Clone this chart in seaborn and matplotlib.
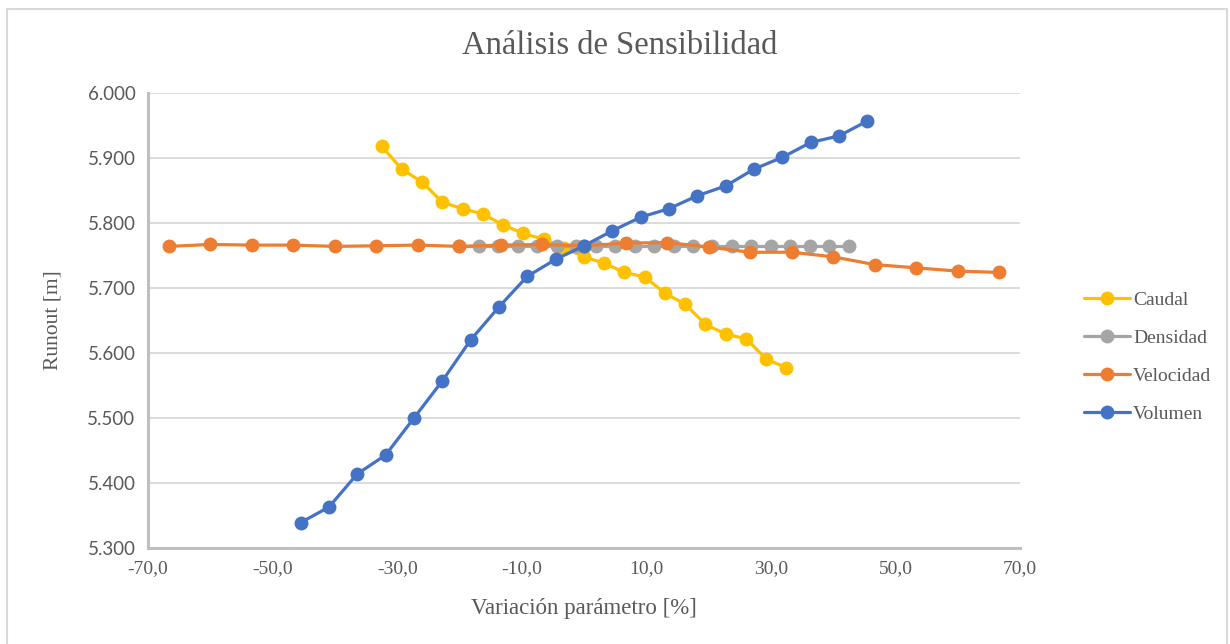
import numpy as np
import pandas as pd
import matplotlib
matplotlib.use("Agg")
import matplotlib.pyplot as plt
from matplotlib.patches import Rectangle
from matplotlib.ticker import FuncFormatter, MultipleLocator, FixedLocator
import seaborn as sns

# Variación porcentual de cada parámetro y runout resultante [m]
caudal_x = [-32.5, -29.25, -26.0, -22.75, -19.5, -16.25, -13.0, -9.75, -6.5, -3.25, 0.0,
            3.25, 6.5, 9.75, 13.0, 16.25, 19.5, 22.75, 26.0, 29.25, 32.5]
caudal_y = [5.918, 5.883, 5.863, 5.832, 5.822, 5.814, 5.797, 5.784, 5.775, 5.762, 5.748,
            5.738, 5.724, 5.717, 5.692, 5.675, 5.644, 5.629, 5.622, 5.591, 5.577]

densidad_x = [-20.0, -16.875, -13.75, -10.625, -7.5, -4.375, -1.25, 1.875, 5.0, 8.125, 11.25,
              14.375, 17.5, 20.625, 23.75, 26.875, 30.0, 33.125, 36.25, 39.375, 42.5]
densidad_y = [5.764] * 21

velocidad_x = [-66.67, -60.0, -53.33, -46.67, -40.0, -33.33, -26.67, -20.0, -13.33, -6.67, 0.0,
               6.67, 13.33, 20.0, 26.67, 33.33, 40.0, 46.67, 53.33, 60.0, 66.67]
velocidad_y = [5.764, 5.767, 5.766, 5.766, 5.764, 5.765, 5.766, 5.764, 5.766, 5.767, 5.765,
               5.769, 5.770, 5.763, 5.755, 5.755, 5.748, 5.736, 5.731, 5.726, 5.724]

volumen_x = [-45.5, -40.95, -36.4, -31.85, -27.3, -22.75, -18.2, -13.65, -9.1, -4.55, 0.0,
             4.55, 9.1, 13.65, 18.2, 22.75, 27.3, 31.85, 36.4, 40.95, 45.5]
volumen_y = [5.339, 5.363, 5.414, 5.443, 5.500, 5.557, 5.620, 5.671, 5.718, 5.744, 5.765,
             5.788, 5.809, 5.822, 5.842, 5.857, 5.883, 5.901, 5.924, 5.934, 5.957]

x_ticks = [-70, -50, -30, -10, 10, 30, 50, 70]

series = ["Caudal", "Densidad", "Velocidad", "Volumen"]
colores = ["#FFC000", "#A5A5A5", "#ED7D31", "#4472C4"]

df = pd.concat([
    pd.DataFrame({"x": caudal_x, "y": caudal_y, "serie": "Caudal"}),
    pd.DataFrame({"x": densidad_x, "y": densidad_y, "serie": "Densidad"}),
    pd.DataFrame({"x": velocidad_x, "y": velocidad_y, "serie": "Velocidad"}),
    pd.DataFrame({"x": volumen_x, "y": volumen_y, "serie": "Volumen"}),
], ignore_index=True)

sns.set_style("white")
plt.rcParams["font.family"] = ["Liberation Serif", "DejaVu Serif"]

fig = plt.figure(figsize=(12.3, 6.44), dpi=100)
ax = fig.add_axes([148 / 1230, 1 - 548 / 644, (1020 - 148) / 1230, (548 - 93) / 644])

sns.lineplot(data=df, x="x", y="y", hue="serie", hue_order=series,
             palette=dict(zip(series, colores)), marker="o", markersize=10,
             markeredgewidth=0, linewidth=2.3, sort=False, ax=ax)

ax.set_xlim(-70, 70)
ax.set_ylim(5.3, 6.0)
ax.xaxis.set_major_locator(FixedLocator(x_ticks))
ax.yaxis.set_major_locator(MultipleLocator(0.1))
ax.xaxis.set_major_formatter(FuncFormatter(lambda v, p: f"{v:.1f}".replace(".", ",")))
ax.yaxis.set_major_formatter(FuncFormatter(lambda v, p: f"{v:.3f}"))
ax.grid(axis="y", color="#D9D9D9", linewidth=1.3)
ax.set_axisbelow(True)
for s in ["top", "right"]:
    ax.spines[s].set_visible(False)
for s in ["left", "bottom"]:
    ax.spines[s].set_color("#BFBFBF")
    ax.spines[s].set_linewidth(2.2)
ax.tick_params(length=0, pad=9, colors="#595959")
for lab in ax.get_xticklabels():
    lab.set_fontsize(14)
for lab in ax.get_yticklabels():
    lab.set_fontsize(13.5)
    lab.set_family(["Lato", "DejaVu Sans"])

ax.set_xlabel("Variación parámetro [%]", fontsize=16.5, color="#595959", labelpad=15)
ax.set_ylabel("Runout [m]", fontsize=15.5, color="#595959", labelpad=18)
fig.suptitle("Análisis de Sensibilidad", x=620 / 1230, y=1 - 46 / 644, va="center",
             fontsize=23.5, color="#595959")

handles, labels = ax.get_legend_handles_labels()
ax.get_legend().remove()
fig.legend(handles, labels, loc="center left", bbox_to_anchor=(1066 / 1230, 1 - 357 / 644),
           bbox_transform=fig.transFigure, frameon=False, fontsize=14,
           handlelength=2.4, handletextpad=0.15, labelspacing=1.05,
           labelcolor="#595959")

fig.patches.append(Rectangle((7 / 1230, -0.01), 1220 / 1230, 1.01 - 9 / 644,
                             transform=fig.transFigure, fill=False,
                             edgecolor="#D9D9D9", linewidth=1.5))

fig.savefig("out.png", dpi=100, facecolor="white")
